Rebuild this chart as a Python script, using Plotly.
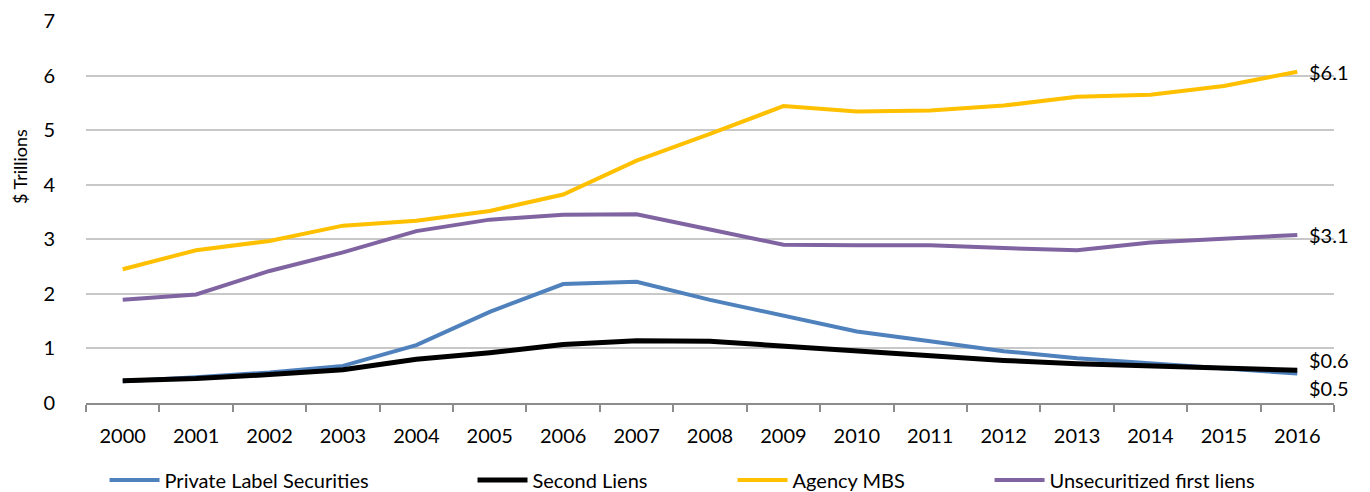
import plotly.graph_objects as go

years = [str(y) for y in range(2000, 2017)]
private_label = [0.40, 0.47, 0.56, 0.68, 1.06, 1.67, 2.18, 2.22, 1.89, 1.60, 1.31, 1.13, 0.95, 0.82, 0.73, 0.63, 0.54]
second_liens = [0.41, 0.45, 0.52, 0.61, 0.80, 0.92, 1.07, 1.14, 1.13, 1.04, 0.94, 0.86, 0.78, 0.72, 0.68, 0.64, 0.60]
agency_mbs = [2.45, 2.80, 2.97, 3.25, 3.34, 3.52, 3.82, 4.44, 4.93, 5.44, 5.34, 5.36, 5.45, 5.61, 5.65, 5.81, 6.07]
unsecuritized = [1.89, 1.99, 2.42, 2.76, 3.15, 3.36, 3.45, 3.46, 3.18, 2.90, 2.89, 2.89, 2.84, 2.80, 2.94, 3.01, 3.08]

series = [
    ("Private Label Securities", private_label, "#4F81BD", 4, "legend", 0.0763),
    ("Second Liens", second_liens, "#000000", 5, "legend2", 0.3449),
    ("Agency MBS", agency_mbs, "#FFC000", 4, "legend3", 0.5347),
    ("Unsecuritized first liens", unsecuritized, "#8064A2", 4, "legend4", 0.7223),
]
end_labels = [("$6.1", 6.07, 0), ("$3.1", 3.08, 0), ("$0.6", 0.60, 10), ("$0.5", 0.54, -14)]

FONT = "Lato"
fig = go.Figure()
for name, vals, color, w, leg, lx in series:
    fig.add_trace(go.Scatter(x=years, y=vals, name=name, mode="lines",
                             line=dict(color=color, width=w), legend=leg))

legend_common = dict(orientation="h", yanchor="middle", y=0.0244, yref="container",
                     xanchor="left", xref="container",
                     font=dict(family=FONT, size=20, color="#000"), bgcolor="rgba(0,0,0,0)",
                     itemwidth=50, tracegroupgap=0)
layout_legends = {}
for name, vals, color, w, leg, lx in series:
    layout_legends[leg] = dict(legend_common, x=lx)

last_idx = len(years) - 1
for txt, v, shift in end_labels:
    fig.add_annotation(x=last_idx, y=v, text=txt, showarrow=False, xanchor="left",
                       yanchor="middle", xshift=10, yshift=shift,
                       font=dict(family=FONT, size=20, color="#000"))

fig.add_annotation(text="$ Trillions", xref="paper", yref="paper", x=-0.053, y=0.62,
                   textangle=-90, showarrow=False, xanchor="center", yanchor="middle",
                   font=dict(family=FONT, size=18, color="#000"))

fig.update_layout(
    width=1370, height=492,
    margin=dict(l=86, r=36, t=21, b=89, autoexpand=False),
    paper_bgcolor="white", plot_bgcolor="white",
    showlegend=True,
    xaxis=dict(type="category", range=[-0.5, len(years) - 0.5],
               tickson="boundaries", ticks="outside", ticklen=7,
               tickcolor="#8C8C8C", tickwidth=2, showline=True, linecolor="#8C8C8C",
               linewidth=2, showgrid=False, ticklabelstandoff=14, tickangle=0,
               automargin=False,
               tickfont=dict(family=FONT, size=20, color="#000"), fixedrange=True),
    yaxis=dict(range=[0, 7], dtick=1, showgrid=True, gridcolor="#C8C8C8", gridwidth=2,
               zeroline=False, showline=False, ticks="", ticklabelstandoff=30,
               automargin=False,
               tickfont=dict(family=FONT, size=20, color="#000"), fixedrange=True),
    **layout_legends,
)

fig.write_html("out.html")
